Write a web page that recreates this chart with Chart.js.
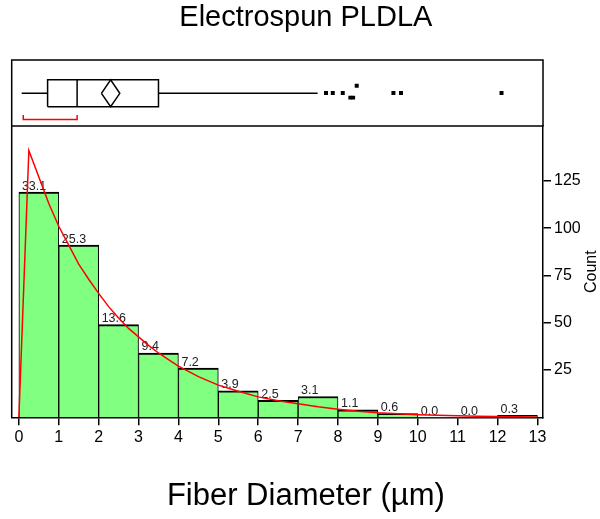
<!DOCTYPE html>
<html>
<head>
<meta charset="utf-8">
<script src="https://cdn.jsdelivr.net/npm/chart.js@4.4.1/dist/chart.umd.min.js"></script>
<style>
html,body{margin:0;padding:0;background:#fff;}
canvas{display:block;}
</style>
</head>
<body>
<canvas id="c" width="600" height="519"></canvas>
<script>
// ---------- data ----------
const chartTitle = 'Electrospun PLDLA';
const xTitle = 'Fiber Diameter (µm)';
const yTitle = 'Count';

const binStarts = [0, 1, 2, 3, 4, 5, 6, 7, 8, 9, 10, 11, 12];
const counts    = [119, 91, 49, 34, 26, 14, 9, 11, 4, 2, 0, 0, 1];
const pctLabels = ['33.1', '25.3', '13.6', '9.4', '7.2', '3.9', '2.5', '3.1', '1.1', '0.6', '0.0', '0.0', '0.3'];

const xTicks = [0, 1, 2, 3, 4, 5, 6, 7, 8, 9, 10, 11, 12, 13];
const yTicks = [25, 50, 75, 100, 125];

// fitted density curve (scaled to counts)
const curveX = [0, 0.25, 0.5, 0.75, 1, 1.25, 1.5, 1.75, 2, 2.25, 2.5, 2.75, 3, 3.25, 3.5, 3.75, 4, 4.5, 5, 5.5, 6, 6.5, 7, 7.5, 8, 8.5, 9, 9.5, 10, 10.5, 11, 11.5, 12, 12.5, 13];
const curveY = [0, 141, 127, 113, 101, 91, 81, 73, 65.5, 58.5, 52.5, 47, 42.5, 38, 34, 30.5, 27, 21.5, 17, 13.8, 10.8, 8.8, 7.2, 5.6, 4.3, 3.2, 2.4, 1.9, 1.4, 1.1, 0.8, 0.6, 0.45, 0.3, 0.2];

// outlier box plot: whisker low, Q1, median, Q3, whisker high
const boxStats = [0.07, 0.72, 1.46, 3.50, 7.49];
// mean diamond: lower 95% CI, mean, upper 95% CI
const meanDiamond = [2.07, 2.30, 2.53];
// shortest half bracket
const shortestHalf = [0.11, 1.46];
// outliers (x) and their stacking level within the box panel (y)
const outlierX = [7.70, 7.87, 8.12, 8.31, 8.38, 8.47, 9.39, 9.58, 12.10];
const outlierY = [0.5, 0.5, 0.5, 0.43, 0.43, 0.61, 0.5, 0.5, 0.5];

// ---------- layout constants for box panel (0..1 axis) ----------
const MID = 0.495, BTOP = 0.70, BBOT = 0.292, BRK = 0.10, BRKT = 0.167;

const FONT = "'Liberation Sans', Arial, Helvetica, sans-serif";
Chart.defaults.font.family = FONT;
Chart.defaults.color = '#000';

const pts = (xs, ys) => xs.map((x, i) => ({x: x, y: ys[i]}));

const boxLine = {
  type: 'line', xAxisID: 'x', yAxisID: 'yb', borderColor: '#000', borderWidth: 1.5,
  pointRadius: 0, fill: false, tension: 0, borderJoinStyle: 'miter', spanGaps: false
};

const framePlugin = {
  id: 'frame',
  afterDatasetsDraw(chart) {
    const {ctx, chartArea: a, scales} = chart;
    const yb = scales.yb, y = scales.y;
    ctx.save();
    ctx.strokeStyle = '#000';
    ctx.lineWidth = 1.5;
    ctx.strokeRect(a.left, yb.top, a.right - a.left, yb.bottom - yb.top);
    ctx.beginPath();
    ctx.moveTo(a.left, y.top);
    ctx.lineTo(a.left, y.bottom);
    ctx.stroke();
    ctx.restore();
  },
  afterDraw(chart) {
    const {ctx, scales} = chart;
    const y = scales.y;
    ctx.save();
    ctx.translate(chart.width - 8, (y.top + y.bottom) / 2);
    ctx.rotate(-Math.PI / 2);
    ctx.font = '16px ' + FONT;
    ctx.fillStyle = '#000';
    ctx.textAlign = 'center';
    ctx.textBaseline = 'middle';
    ctx.fillText(yTitle, 0, 0);
    ctx.restore();
  }
};

const barLabelPlugin = {
  id: 'barLabels',
  afterDatasetDraw(chart, args) {
    const ds = chart.data.datasets[args.index];
    if (ds.id !== 'hist') return;
    const {ctx} = chart;
    ctx.save();
    ctx.font = '12.5px ' + FONT;
    ctx.fillStyle = '#222';
    ctx.textAlign = 'left';
    ctx.textBaseline = 'alphabetic';
    args.meta.data.forEach((bar, i) => {
      const left = bar.x - bar.width / 2;
      ctx.fillText(pctLabels[i], left + 3, bar.y - 2.5);
    });
    ctx.restore();
  }
};

new Chart(document.getElementById('c'), {
  type: 'bar',
  data: {
    datasets: [
      {
        type: 'line', label: 'fit', order: 0,
        data: pts(curveX, curveY),
        xAxisID: 'x', yAxisID: 'y',
        borderColor: '#ff0000', borderWidth: 1.5, pointRadius: 0, tension: 0, fill: false
      },
      Object.assign({}, boxLine, {order: 1, data: [
        {x: boxStats[0], y: MID}, {x: boxStats[1], y: MID}, {x: boxStats[2], y: null},
        {x: boxStats[3], y: MID}, {x: boxStats[4], y: MID}
      ]}),
      Object.assign({}, boxLine, {order: 1, data: [
        {x: boxStats[1], y: BBOT}, {x: boxStats[3], y: BBOT}, {x: boxStats[3], y: BTOP},
        {x: boxStats[1], y: BTOP}, {x: boxStats[1], y: BBOT}
      ]}),
      Object.assign({}, boxLine, {order: 1, data: [
        {x: boxStats[2], y: BBOT}, {x: boxStats[2], y: BTOP}
      ]}),
      Object.assign({}, boxLine, {order: 1, data: [
        {x: meanDiamond[0], y: MID}, {x: meanDiamond[1], y: BTOP}, {x: meanDiamond[2], y: MID},
        {x: meanDiamond[1], y: BBOT}, {x: meanDiamond[0], y: MID}
      ]}),
      Object.assign({}, boxLine, {order: 1, borderColor: '#ff0000', data: [
        {x: shortestHalf[0], y: BRKT}, {x: shortestHalf[0], y: BRK},
        {x: shortestHalf[1], y: BRK}, {x: shortestHalf[1], y: BRKT}
      ]}),
      {
        type: 'line', order: 1, xAxisID: 'x', yAxisID: 'yb', showLine: false,
        data: pts(outlierX, outlierY),
        pointStyle: 'rect', pointRadius: 2.8, pointBackgroundColor: '#000', pointBorderWidth: 0
      },
      {
        type: 'bar', id: 'hist', order: 5,
        data: binStarts.map((s, i) => ({x: s + 0.5, y: counts[i]})),
        xAxisID: 'x', yAxisID: 'y',
        backgroundColor: '#80ff80', borderColor: '#000',
        borderWidth: (c) => counts[c.dataIndex] > 0 ? {top: 2, left: 1, right: 1, bottom: 0} : 0,
        barPercentage: 1, categoryPercentage: 1
      }
    ]
  },
  options: {
    responsive: false,
    animation: false,
    events: [],
    layout: {padding: {left: 11.7, right: 0, top: 0, bottom: 0}},
    plugins: {
      legend: {display: false},
      tooltip: {enabled: false},
      title: {
        display: true, text: chartTitle, color: '#000',
        font: {size: 29, weight: 'normal', family: FONT},
        padding: {top: 1, bottom: 24.2}
      },
      subtitle: {
        display: true, position: 'bottom', text: xTitle, color: '#000',
        font: {size: 31, weight: 'normal', family: FONT},
        padding: {top: 31, bottom: 3.5}
      }
    },
    scales: {
      yb: {
        type: 'linear', position: 'right', stack: 'main', stackWeight: 66, weight: 1,
        min: 0, max: 1, display: true,
        ticks: {display: false}, grid: {display: false}, border: {display: false}
      },
      y: {
        type: 'linear', position: 'right', stack: 'main', stackWeight: 291.3, weight: 2,
        min: 0, max: 154,
        afterBuildTicks: (s) => { s.ticks = yTicks.map(v => ({value: v})); },
        afterFit: (s) => { s.width = 57; },
        ticks: {color: '#000', font: {size: 16}, padding: 3},
        grid: {display: true, drawOnChartArea: false, drawTicks: true, tickLength: 8, color: '#000', lineWidth: 1.5},
        border: {display: true, color: '#000', width: 1.5}
      },
      x: {
        type: 'linear', position: 'bottom', min: -0.18, max: 13.14, offset: false,
        afterBuildTicks: (s) => { s.ticks = xTicks.map(v => ({value: v})); },
        afterFit: (s) => { s.height = 30; },
        ticks: {color: '#000', font: {size: 16}, padding: 3, maxRotation: 0, autoSkip: false},
        grid: {display: true, offset: false, drawOnChartArea: false, drawTicks: true, tickLength: 8, color: '#000', lineWidth: 1.5},
        border: {display: true, color: '#000', width: 1.5}
      }
    }
  },
  plugins: [barLabelPlugin, framePlugin]
});
</script>
</body>
</html>
